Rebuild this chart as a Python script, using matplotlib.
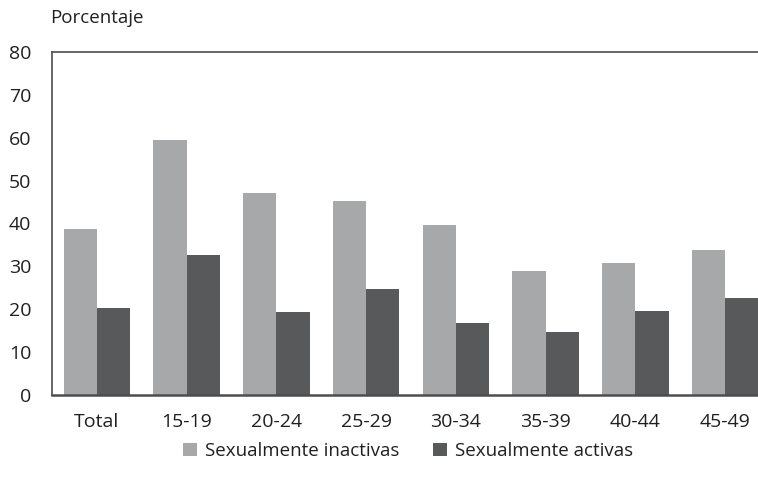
import matplotlib
matplotlib.use("Agg")
import matplotlib.pyplot as plt
import numpy as np

plt.rcParams['font.family'] = ['Open Sans', 'DejaVu Sans']

categories = ["Total", "15-19", "20-24", "25-29", "30-34", "35-39", "40-44", "45-49"]
inactivas = [38.7, 59.5, 47.1, 45.2, 39.6, 28.9, 30.7, 33.9]
activas = [20.3, 32.7, 19.4, 24.7, 16.7, 14.8, 19.5, 22.7]
series_names = ["Sexualmente inactivas", "Sexualmente activas"]
yticks = [0, 10, 20, 30, 40, 50, 60, 70, 80]

fig = plt.figure(figsize=(7.58, 4.88), dpi=100)
ax = fig.add_axes([52/758, 1 - 395/488, 1 - 52/758 + 0.01, (395 - 52)/488])

x = np.arange(len(categories))
w = 0.37
c1, c2 = "#a7a8aa", "#58595b"
ax.bar(x - w/2, inactivas, width=w, color=c1, label=series_names[0], zorder=2)
ax.bar(x + w/2, activas, width=w, color=c2, label=series_names[1], zorder=2)

ax.set_ylim(0, 80)
ax.set_xlim(-0.5, 7.45)
ax.set_yticks(yticks)
ax.set_xticks(x)
ax.set_xticklabels(categories)
ax.tick_params(axis='both', length=0, labelsize=14, colors="#231f20")
ax.tick_params(axis='y', pad=15)
ax.tick_params(axis='x', pad=13)
for s in ['left', 'top', 'bottom']:
    ax.spines[s].set_color("#4d4d4f")
    ax.spines[s].set_linewidth(1.2)
ax.spines['bottom'].set_linewidth(1.8)
ax.spines['right'].set_visible(False)

fig.text(50/758, 1 - 18/488, "Porcentaje", fontsize=13.5, color="#231f20", va='center', ha='left')

leg = fig.legend(loc='center', bbox_to_anchor=(408/758, 1 - 451/488), ncol=2, frameon=False,
                 fontsize=13.5, handlelength=0.75, handleheight=0.75, handletextpad=0.4,
                 columnspacing=1.8)
for t in leg.get_texts():
    t.set_color("#231f20")

fig.savefig("out.png", dpi=100)
